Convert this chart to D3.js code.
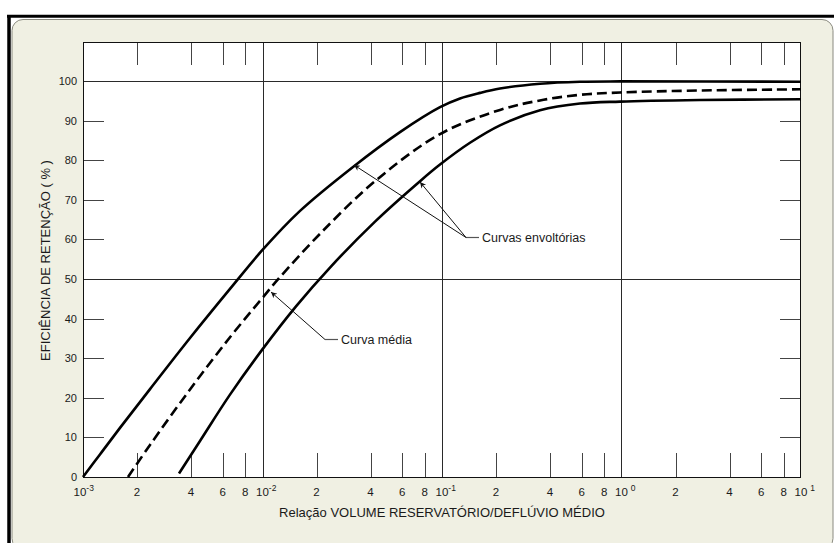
<!DOCTYPE html>
<html>
<head>
<meta charset="utf-8">
<script src="https://cdn.jsdelivr.net/npm/d3@7/dist/d3.min.js"></script>
<style>
  html, body { margin: 0; padding: 0; background: #ffffff; }
  svg { display: block; }
  text { font-family: "Liberation Sans", Arial, sans-serif; fill: #1a1a1a; }
</style>
</head>
<body>
<script>
// ---------- data ----------
const decades = [-3, -2, -1, 0, 1];
const minorMultipliers = [2, 4, 6, 8];
const yTickValues = [0, 10, 20, 30, 40, 50, 60, 70, 80, 90, 100];
const yGridValues = [50, 100];

const upperX = [0.001, 0.001243, 0.001607, 0.002362, 0.003946, 0.00659, 0.00994, 0.01618, 0.03193, 0.05834, 0.09747, 0.1260, 0.1628, 0.2104, 0.3516, 0.5871, 0.981, 10];
const upperY = [0, 5.7, 12.4, 22.2, 35.1, 47.5, 57.2, 67.2, 78.3, 87.1, 93.4, 95.6, 97.0, 98.1, 99.3, 99.8, 99.9, 99.8];

const meanX = [0.001781, 0.002362, 0.003946, 0.00659, 0.00994, 0.01236, 0.0209, 0.04235, 0.09747, 0.2104, 0.3516, 0.5871, 0.981, 2.737, 10];
const meanY = [0, 8.1, 22.1, 35.3, 45.1, 50.2, 61.4, 74.7, 86.6, 92.7, 95.1, 96.5, 97.1, 97.6, 97.9];

const lowerX = [0.003426, 0.004485, 0.00659, 0.00994, 0.01537, 0.02377, 0.04235, 0.07543, 0.09747, 0.1432, 0.2104, 0.3516, 0.5871, 0.981, 2.737, 10];
const lowerY = [0.9, 9.1, 20.8, 32.1, 43.1, 52.9, 64.5, 74.7, 78.9, 84.4, 88.8, 92.6, 94.3, 94.8, 95.2, 95.4];

const xTitle = "Relação VOLUME RESERVATÓRIO/DEFLÚVIO MÉDIO";
const yTitle = "EFICIÊNCIA DE RETENÇÃO ( % )";
const labelEnvelope = "Curvas envoltórias";
const labelMean = "Curva média";

// ---------- layout ----------
const W = 834, H = 543;
const plot = { left: 83, right: 801, top: 42, bottom: 477 };

const svg = d3.select("body").append("svg").attr("width", W).attr("height", H);

const defs = svg.append("defs");
defs.append("marker")
  .attr("id", "arrow")
  .attr("viewBox", "0 0 10 10")
  .attr("refX", 10).attr("refY", 5)
  .attr("markerWidth", 8).attr("markerHeight", 6)
  .attr("markerUnits", "userSpaceOnUse")
  .attr("orient", "auto")
  .append("path").attr("d", "M0,0 L10,5 L0,10 L3,5 Z").attr("fill", "#111");

// frame / panel
svg.append("rect")
  .attr("x", 12).attr("y", 19.5).attr("width", 821).attr("height", 530)
  .attr("rx", 11).attr("ry", 11)
  .attr("fill", "#f0f0e3").attr("stroke", "#8a8a80").attr("stroke-width", 1);
svg.append("line").attr("x1", 7).attr("x2", 834).attr("y1", 16.2).attr("y2", 16.2)
  .attr("stroke", "#000").attr("stroke-width", 3);
svg.append("line").attr("x1", 9).attr("x2", 9).attr("y1", 15).attr("y2", 543)
  .attr("stroke", "#000").attr("stroke-width", 3.5);

// scales
const x = d3.scaleLog().domain([1e-3, 10]).range([plot.left, plot.right]);
const y = d3.scaleLinear().domain([0, 110]).range([plot.bottom, plot.bottom - 110 * 3.96]);

const g = svg.append("g");

// plot background
g.append("rect")
  .attr("x", plot.left).attr("y", plot.top)
  .attr("width", plot.right - plot.left).attr("height", plot.bottom - plot.top)
  .attr("fill", "#ffffff");

// vertical decade gridlines
g.selectAll("line.vgrid")
  .data(decades.slice(1, -1))
  .join("line")
  .attr("class", "vgrid")
  .attr("x1", d => Math.round(x(Math.pow(10, d))) + 0.5)
  .attr("x2", d => Math.round(x(Math.pow(10, d))) + 0.5)
  .attr("y1", plot.top).attr("y2", plot.bottom)
  .attr("stroke", "#2a2a2a").attr("stroke-width", 1);

// horizontal gridlines
g.selectAll("line.hgrid")
  .data(yGridValues)
  .join("line")
  .attr("class", "hgrid")
  .attr("x1", plot.left).attr("x2", plot.right)
  .attr("y1", d => Math.round(y(d)) + 0.5)
  .attr("y2", d => Math.round(y(d)) + 0.5)
  .attr("stroke", "#2a2a2a").attr("stroke-width", 1);

// minor x ticks (top and bottom)
const minorVals = [];
decades.slice(0, -1).forEach(d => minorMultipliers.forEach(m => minorVals.push(m * Math.pow(10, d))));
g.selectAll("line.mtb")
  .data(minorVals)
  .join("line")
  .attr("x1", d => Math.round(x(d)) + 0.5).attr("x2", d => Math.round(x(d)) + 0.5)
  .attr("y1", plot.bottom).attr("y2", plot.bottom - 24)
  .attr("stroke", "#444").attr("stroke-width", 1);
g.selectAll("line.mtt")
  .data(minorVals)
  .join("line")
  .attr("x1", d => Math.round(x(d)) + 0.5).attr("x2", d => Math.round(x(d)) + 0.5)
  .attr("y1", plot.top).attr("y2", plot.top + 23)
  .attr("stroke", "#444").attr("stroke-width", 1);

// y ticks left & right
const yShort = yTickValues.filter(v => v > 0 && yGridValues.indexOf(v) < 0);
g.selectAll("line.ytl")
  .data(yShort)
  .join("line")
  .attr("x1", plot.left).attr("x2", plot.left + 21)
  .attr("y1", d => Math.round(y(d)) + 0.5).attr("y2", d => Math.round(y(d)) + 0.5)
  .attr("stroke", "#444").attr("stroke-width", 1);
g.selectAll("line.ytr")
  .data(yShort)
  .join("line")
  .attr("x1", plot.right - 21).attr("x2", plot.right)
  .attr("y1", d => Math.round(y(d)) + 0.5).attr("y2", d => Math.round(y(d)) + 0.5)
  .attr("stroke", "#444").attr("stroke-width", 1);

// plot border
g.append("rect")
  .attr("x", plot.left + 0.5).attr("y", plot.top + 0.5)
  .attr("width", plot.right - plot.left - 1).attr("height", plot.bottom - plot.top)
  .attr("fill", "none").attr("stroke", "#111").attr("stroke-width", 1);

// y tick labels
g.selectAll("text.ylab")
  .data(yTickValues)
  .join("text")
  .attr("x", plot.left - 6)
  .attr("y", d => y(d) + 4)
  .attr("text-anchor", "end")
  .attr("font-size", 11)
  .text(d => d);

// x tick labels: decades
const decLabels = g.selectAll("text.xdec")
  .data(decades)
  .join("text")
  .attr("x", (d, i) => x(Math.pow(10, d)) - 6.5 - (i === 0 ? 3 : 0))
  .attr("y", plot.bottom + 19)
  .attr("font-size", 11.5);
decLabels.append("tspan").text("10");
decLabels.append("tspan")
  .attr("dx", d => d >= 0 ? 3 : 0)
  .attr("dy", -5)
  .attr("font-size", 8.5)
  .text(d => String(d));

// x tick labels: minor
g.selectAll("text.xmin")
  .data(minorVals)
  .join("text")
  .attr("x", d => x(d))
  .attr("y", plot.bottom + 19)
  .attr("text-anchor", "middle")
  .attr("font-size", 11.5)
  .text(d => Math.round(d / Math.pow(10, Math.floor(Math.log10(d) + 1e-9))));

// axis titles
svg.append("text")
  .attr("x", (plot.left + plot.right) / 2)
  .attr("y", 517)
  .attr("text-anchor", "middle")
  .attr("font-size", 13)
  .text(xTitle);
svg.append("text")
  .attr("transform", `translate(50, ${(plot.top + plot.bottom) / 2 + 1}) rotate(-90)`)
  .attr("text-anchor", "middle")
  .attr("font-size", 13)
  .text(yTitle);

// curves
const line = d3.line().x(d => x(d[0])).y(d => y(d[1])).curve(d3.curveCatmullRom.alpha(0.5));
const zip = (a, b) => a.map((v, i) => [v, b[i]]);

g.append("path").datum(zip(upperX, upperY)).attr("d", line)
  .attr("fill", "none").attr("stroke", "#000").attr("stroke-width", 2.6);
g.append("path").datum(zip(lowerX, lowerY)).attr("d", line)
  .attr("fill", "none").attr("stroke", "#000").attr("stroke-width", 2.6);
g.append("path").datum(zip(meanX, meanY)).attr("d", line)
  .attr("fill", "none").attr("stroke", "#000").attr("stroke-width", 2.6)
  .attr("stroke-dasharray", "10,5");

// annotations
const ann = svg.append("g");
// Curvas envoltórias
ann.append("line").attr("x1", 466).attr("y1", 237.5).attr("x2", 479).attr("y2", 237.5)
  .attr("stroke", "#555").attr("stroke-width", 1.2);
ann.append("line").attr("x1", 466).attr("y1", 237.5).attr("x2", 354).attr("y2", 165)
  .attr("stroke", "#111").attr("stroke-width", 1).attr("marker-end", "url(#arrow)");
ann.append("line").attr("x1", 466).attr("y1", 237.5).attr("x2", 420).attr("y2", 182)
  .attr("stroke", "#111").attr("stroke-width", 1).attr("marker-end", "url(#arrow)");
ann.append("text").attr("x", 482).attr("y", 242).attr("font-size", 12.5).text(labelEnvelope);
// Curva média
ann.append("line").attr("x1", 325).attr("y1", 339.5).attr("x2", 338).attr("y2", 339.5)
  .attr("stroke", "#555").attr("stroke-width", 1.2);
ann.append("line").attr("x1", 325).attr("y1", 339.5).attr("x2", 271).attr("y2", 292)
  .attr("stroke", "#111").attr("stroke-width", 1).attr("marker-end", "url(#arrow)");
ann.append("text").attr("x", 341).attr("y", 344).attr("font-size", 12.5).text(labelMean);
</script>
</body>
</html>
